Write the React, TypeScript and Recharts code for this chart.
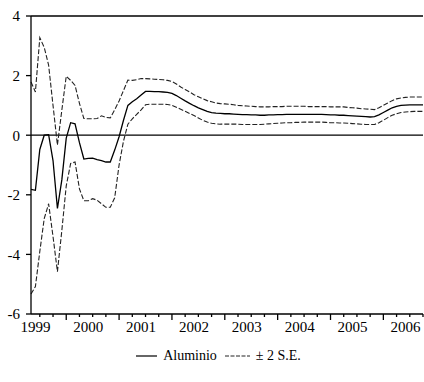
import React from "react";
import {
  LineChart,
  Line,
  XAxis,
  YAxis,
  ReferenceLine,
  Legend,
} from "recharts";

// monthly recursive estimates, 1999M05 .. 2006M10
const startYear = 1999;
const startMonth = 5;

const aluminio = [
  -1.82, -1.85, -0.48, 0.0, 0.02, -0.85, -2.46, -1.5, -0.1, 0.42,
  0.38, -0.25, -0.8, -0.78, -0.77, -0.82, -0.85, -0.9, -0.9, -0.5,
  -0.05, 0.5, 1.0, 1.12, 1.22, 1.35, 1.47, 1.47, 1.46, 1.46,
  1.45, 1.44, 1.4, 1.33, 1.24, 1.15, 1.07, 0.99, 0.92, 0.86,
  0.8, 0.76, 0.74, 0.73, 0.72, 0.72, 0.71, 0.7, 0.69, 0.69,
  0.68, 0.68, 0.67, 0.67, 0.68, 0.68, 0.69, 0.69, 0.7, 0.7,
  0.7, 0.7, 0.7, 0.7, 0.7, 0.7, 0.7, 0.69, 0.68, 0.68,
  0.67, 0.67, 0.66, 0.65, 0.64, 0.63, 0.62, 0.61, 0.62, 0.68,
  0.76, 0.84, 0.92, 0.97, 1.0, 1.01, 1.02, 1.02, 1.02, 1.02,
];

const upper = [
  1.79, 1.45, 3.27, 2.95, 2.35, 1.0, -0.33, 0.84, 1.98, 1.84,
  1.67, 1.07, 0.56, 0.55, 0.55, 0.56, 0.65, 0.6, 0.58, 0.85,
  1.15, 1.5, 1.85, 1.84, 1.86, 1.9, 1.9, 1.89, 1.88, 1.87,
  1.86, 1.84, 1.8, 1.72, 1.62, 1.53, 1.45, 1.36, 1.29, 1.22,
  1.16, 1.12, 1.08, 1.06, 1.05, 1.04, 1.02, 1.0, 0.99, 0.98,
  0.97, 0.96, 0.95, 0.95, 0.95, 0.96, 0.96, 0.96, 0.97, 0.97,
  0.97, 0.97, 0.97, 0.96, 0.96, 0.96, 0.96, 0.96, 0.95, 0.95,
  0.95, 0.95, 0.93, 0.92, 0.91, 0.89, 0.88, 0.87, 0.86, 0.92,
  1.0, 1.08, 1.16, 1.22, 1.25, 1.27, 1.28, 1.28, 1.28, 1.28,
];

const lower = [
  -5.33, -5.08, -3.9, -2.8, -2.3, -3.4, -4.58, -3.2, -1.7, -0.95,
  -0.9, -1.8, -2.2, -2.2, -2.13, -2.18, -2.3, -2.42, -2.42, -2.1,
  -1.0, -0.2, 0.37, 0.55, 0.7, 0.85, 1.02, 1.04, 1.04, 1.04,
  1.04, 1.03, 1.0, 0.94, 0.87, 0.8, 0.73, 0.66, 0.58, 0.5,
  0.44, 0.4, 0.38, 0.37, 0.37, 0.37, 0.37, 0.37, 0.36, 0.36,
  0.36, 0.36, 0.36, 0.37, 0.38, 0.39, 0.4, 0.41, 0.42, 0.42,
  0.43, 0.43, 0.44, 0.44, 0.44, 0.44, 0.44, 0.43, 0.42, 0.42,
  0.41, 0.41, 0.4, 0.39, 0.38, 0.37, 0.36, 0.36, 0.36, 0.42,
  0.5, 0.59, 0.67, 0.72, 0.76, 0.78, 0.79, 0.8, 0.8, 0.8,
];

const yearLabels = ["1999", "2000", "2001", "2002", "2003", "2004", "2005", "2006"];
const yTicks = [-6, -4, -2, 0, 2, 4];

const data = aluminio.map((v, i) => {
  const m = startMonth - 1 + i;
  return {
    i,
    year: startYear + Math.floor(m / 12),
    month: (m % 12) + 1,
    aluminio: v,
    upper: upper[i],
    lower: lower[i],
  };
});

// quarter starts get a tick mark, June of every year carries the year label
const quarterTicks = data.filter((d) => (d.month - 1) % 3 === 0).map((d) => d.i);
const labelTicks = data.filter((d) => d.month === 6).map((d) => d.i);
const xTicks = [...quarterTicks, ...labelTicks].sort((a, b) => a - b);

const font = "Liberation Serif, DejaVu Serif, serif";

const XTick = (props: any) => {
  const { x, y, payload } = props;
  const d = data[payload.value];
  if (d.month === 6) {
    return (
      <text
        x={x}
        y={y + 18}
        textAnchor="middle"
        style={{ fontSize: 15, fontFamily: font }}
        fill="#000"
      >
        {yearLabels[d.year - startYear]}
      </text>
    );
  }
  const len = d.month === 1 ? 6 : 3;
  return <line x1={x} x2={x} y1={y} y2={y + len} stroke="#000" strokeWidth={1.3} />;
};

const LegendContent = () => (
  <div
    style={{
      height: 24,
      display: "flex",
      justifyContent: "center",
      alignItems: "center",
      fontFamily: font,
      fontSize: 14,
      color: "#000",
      paddingLeft: 14,
    }}
  >
    <svg width={22} height={10}>
      <line x1={0} x2={21} y1={5} y2={5} stroke="#000" strokeWidth={1.2} />
    </svg>
    <span style={{ marginLeft: 5, marginRight: 8 }}>Aluminio</span>
    <svg width={26} height={10}>
      <line x1={0} x2={25} y1={5} y2={5} stroke="#222" strokeWidth={1} strokeDasharray="4 1.5" />
    </svg>
    <span style={{ marginLeft: 5 }}>± 2 S.E.</span>
  </div>
);

export default function App() {
  return (
    <div
      style={{
        position: "absolute",
        left: 0,
        top: 0,
        width: 424,
        height: 382,
        background: "#fff",
        fontFamily: font,
      }}
    >
      <LineChart
        width={424}
        height={382}
        data={data}
        margin={{ top: 16, right: 1, left: 0, bottom: 14 }}
        style={{ fontFamily: font }}
      >
        <XAxis
          dataKey="i"
          type="number"
          domain={[0, data.length - 1]}
          ticks={xTicks}
          interval={0}
          tick={<XTick />}
          tickLine={false}
          tickSize={0}
          tickMargin={0}
          height={30}
          axisLine={{ stroke: "#000", strokeWidth: 1.3 }}
        />
        <YAxis
          domain={[-6, 4]}
          ticks={yTicks}
          interval={0}
          width={31}
          tickSize={5}
          tickMargin={6}
          axisLine={{ stroke: "#000", strokeWidth: 1.3 }}
          tickLine={{ stroke: "#000", strokeWidth: 1.3 }}
          tick={{ fontSize: 15, fontFamily: font, fill: "#000" }}
        />
        <ReferenceLine y={4} stroke="#000" strokeWidth={1.3} />
        <ReferenceLine y={0} stroke="#000" strokeWidth={1.3} />
        <Legend verticalAlign="bottom" height={24} content={<LegendContent />} />
        <Line
          dataKey="upper"
          stroke="#222"
          strokeWidth={1.1}
          strokeDasharray="5 2"
          dot={false}
          isAnimationActive={false}
          legendType="none"
        />
        <Line
          dataKey="lower"
          stroke="#222"
          strokeWidth={1.1}
          strokeDasharray="5 2"
          dot={false}
          isAnimationActive={false}
          legendType="none"
        />
        <Line
          dataKey="aluminio"
          stroke="#000"
          strokeWidth={1.3}
          dot={false}
          isAnimationActive={false}
        />
      </LineChart>
    </div>
  );
}
